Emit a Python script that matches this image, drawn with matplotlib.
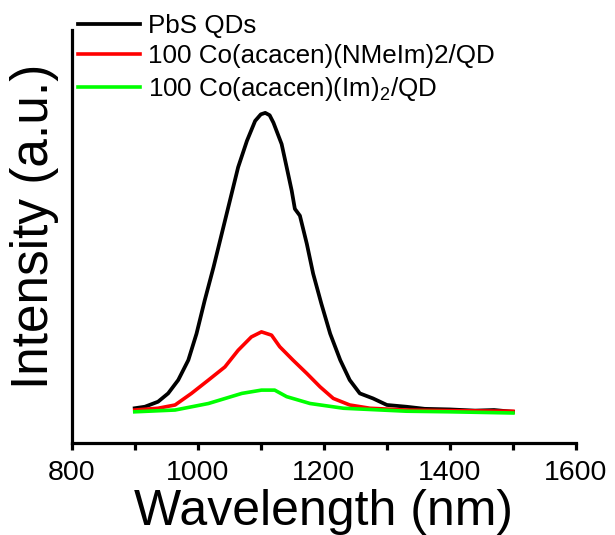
import matplotlib
matplotlib.use("Agg")
import matplotlib.pyplot as plt

plt.rcParams['font.family'] = ['Liberation Sans', 'DejaVu Sans']
plt.rcParams['mathtext.default'] = 'regular'

# Data (normalized intensity, a.u.)
wl_black = [900, 916, 937, 953, 969, 985, 998, 1011, 1025, 1038, 1051, 1064, 1078,
            1091, 1100, 1107, 1114, 1120, 1133, 1141, 1149, 1154, 1162, 1173, 1183,
            1196, 1210, 1226, 1241, 1257, 1278, 1300, 1331, 1360, 1400, 1440, 1470, 1500]
int_black = [0.006, 0.011, 0.028, 0.056, 0.101, 0.168, 0.257, 0.369, 0.481, 0.593,
             0.705, 0.817, 0.906, 0.973, 0.995, 1.0, 0.992, 0.967, 0.895, 0.817, 0.738,
             0.677, 0.654, 0.559, 0.459, 0.358, 0.257, 0.168, 0.101, 0.056, 0.039,
             0.017, 0.011, 0.004, 0.002, -0.002, 0.0, -0.006]

wl_red = [900, 937, 964, 990, 1017, 1043, 1064, 1085, 1101, 1117, 1130, 1151, 1173,
          1194, 1215, 1241, 1273, 1331, 1400, 1450, 1500]
int_red = [0.0, 0.006, 0.017, 0.056, 0.101, 0.145, 0.201, 0.246, 0.263, 0.252, 0.213,
           0.168, 0.123, 0.078, 0.039, 0.017, 0.006, 0.0, -0.002, -0.003, -0.004]

wl_green = [900, 964, 1017, 1070, 1101, 1122, 1141, 1178, 1231, 1331, 1400, 1450, 1500]
int_green = [-0.006, 0.0, 0.022, 0.056, 0.067, 0.067, 0.045, 0.022, 0.006, -0.004,
             -0.006, -0.008, -0.01]

labels = ['PbS QDs', '100 Co(acacen)(NMeIm)2/QD', '100 Co(acacen)(Im)$_2$/QD']
x_ticks = [800, 1000, 1200, 1400, 1600]
x_minor = [900, 1100, 1300, 1500]

fig = plt.figure(figsize=(6.15, 5.35), dpi=100)
ax = fig.add_axes([0.1166, 0.1725, 0.82, 0.7715])

l1, = ax.plot(wl_black, int_black, color='black', lw=2.7, label=labels[0])
l2, = ax.plot(wl_red, int_red, color='#ff0000', lw=2.6, label=labels[1])
l3, = ax.plot(wl_green, int_green, color='#00ff00', lw=2.6, label=labels[2])

ax.set_xlim(800, 1600)
ax.set_ylim(-0.11, 1.279)
ax.set_xticks(x_ticks)
ax.set_xticks(x_minor, minor=True)
ax.set_yticks([])
for s in ['top', 'right']:
    ax.spines[s].set_visible(False)
for s in ['left', 'bottom']:
    ax.spines[s].set_linewidth(2.3)
ax.tick_params(axis='x', which='both', direction='out', length=5, width=2.3,
               labelsize=20.5, pad=7.5)

ax.set_xlabel('Wavelength (nm)', fontsize=36, labelpad=2)
ax.set_ylabel('Intensity (a.u.)', fontsize=37, labelpad=9)
ax.yaxis.label.set_y(0.525)

fig.legend(handles=[l1, l2, l3], loc='upper left', bbox_to_anchor=(0.127, 0.974),
           frameon=False, fontsize=18.7, handlelength=2.4, handletextpad=0.3,
           borderpad=0, borderaxespad=0, labelspacing=0.25)

fig.savefig('out.png', dpi=100)
